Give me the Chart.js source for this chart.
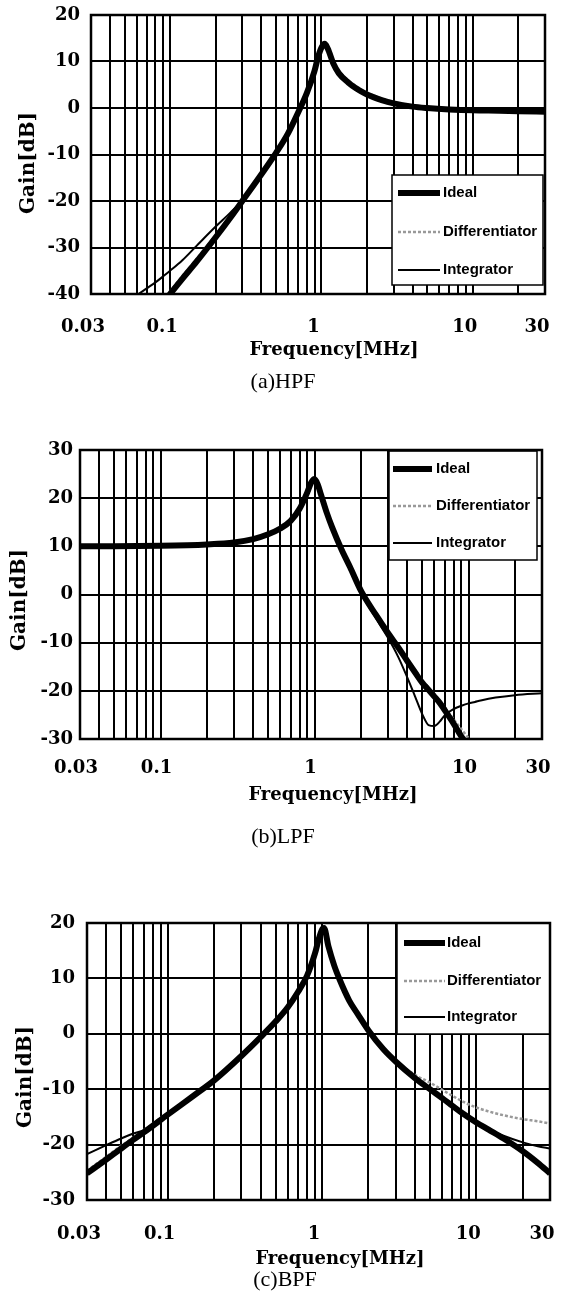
<!doctype html>
<html lang="en">
<head>
<meta charset="utf-8">
<title>Gain vs frequency: HPF, LPF, BPF</title>
<style>
  html, body { margin: 0; padding: 0; background: #fff; }
  .page { position: relative; width: 565px; height: 1302px; }
  .page canvas { position: absolute; left: 0; }
</style>
</head>
<body>
<div class="page">
  <canvas id="hpf" width="565" height="400" style="top:0px"></canvas>
  <canvas id="lpf" width="565" height="460" style="top:400px"></canvas>
  <canvas id="bpf" width="565" height="442" style="top:860px"></canvas>
</div>
<script src="https://cdn.jsdelivr.net/npm/chart.js/dist/chart.umd.min.js"></script>
<script>
// frequency grid lines [MHz] and the ones that get a label
const freqGrid = [0.03, 0.04, 0.05, 0.06, 0.07, 0.08, 0.09, 0.1, 0.2, 0.3, 0.4, 0.5, 0.6, 0.7, 0.8, 0.9,
                  1, 2, 3, 4, 5, 6, 7, 8, 9, 10, 20, 30];
const freqLabels = [0.03, 0.1, 1, 10, 30];
const seriesNames = ['Ideal', 'Differentiator', 'Integrator'];

// (a) HPF, gain in dB
const freqA  = [0.06, 0.07, 0.08, 0.09, 0.1, 0.12, 0.15, 0.2, 0.25, 0.3, 0.4, 0.5, 0.6, 0.7, 0.8, 0.9, 0.95, 1.0, 1.05, 1.1,
                1.2, 1.3, 1.5, 1.7, 2, 2.5, 3, 4, 5, 7, 10, 15, 20, 30];
const idealA = [null, null, null, -41.8, -40, -36.8, -33, -27.8, -23.6, -20, -14.3, -9.7, -5.5, -1, 3.2, 8, 11, 13, 13.8, 12.8,
                9.5, 7.5, 5.5, 4.2, 2.9, 1.7, 1, 0.3, 0, -0.3, -0.5, -0.6, -0.7, -0.8];
const diffA  = [null, null, null, -41.2, -39.4, -36.2, -32.4, -27.3, -23.2, -19.7, -14.1, -9.7, -5.5, -1, 3, 7.6, 10.5, 12.5, 13.2, 12.4,
                9.9, 8, 6, 4.7, 3.3, 2, 1.3, 0.5, 0.1, -0.2, -0.4, -0.6, -0.7, -0.8];
const integA = [-40.3, -38.8, -37.5, -36.2, -35, -32.8, -29.6, -25.5, -22.5, -19.8, -14.3, -9.7, -5.5, -1, 3.2, 8, 11, 13, 13.8, 12.8,
                9.5, 7.5, 5.5, 4.2, 2.9, 1.7, 1, 0.3, 0, -0.3, -0.5, -0.6, -0.7, -0.8];

// (b) LPF
const freqB  = [0.03, 0.05, 0.1, 0.2, 0.3, 0.4, 0.5, 0.6, 0.7, 0.8, 0.9, 0.95, 1.0, 1.05, 1.1, 1.2, 1.3, 1.5, 1.7, 2,
                2.5, 3, 3.5, 4, 4.5, 5, 5.5, 6, 6.5, 7, 8, 9, 10, 11, 12, 15, 20, 30];
const idealB = [10, 10, 10.1, 10.4, 10.8, 11.5, 12.5, 13.7, 15.3, 17.8, 21.3, 23.2, 24, 22.8, 20.8, 17, 14, 9.3, 5.7, 0.8,
                -4.2, -8, -11, -13.8, -16.2, -18.3, -19.8, -21.2, -22.5, -24, -26.8, -29.5, -31.5, null, null, null, null, null];
const diffB  = [10, 10, 10.1, 10.4, 10.8, 11.5, 12.5, 13.7, 15.3, 17.8, 21.3, 23.2, 24, 23, 21.2, 17.6, 14.6, 9.9, 6.2, 1.3,
                -3.8, -7.6, -10.6, -13.3, -15.7, -17.8, -19.3, -20.7, -22, -23.4, -25.9, -28, -29.8, -31.4, null, null, null, null];
const integB = [10, 10, 10.1, 10.4, 10.8, 11.5, 12.5, 13.7, 15.3, 17.8, 21.3, 23.2, 24, 22.8, 20.8, 17, 14, 9.3, 5.5, 0.4,
                -4.9, -9, -13, -17.2, -21.2, -24.8, -27.1, -27.3, -26.4, -25.1, -23.8, -23.1, -22.6, -22.3, -22, -21.4, -20.9, -20.5];

// (c) BPF
const freqC  = [0.03, 0.04, 0.05, 0.06, 0.07, 0.1, 0.15, 0.2, 0.3, 0.4, 0.5, 0.6, 0.7, 0.8, 0.9, 0.95, 1.0, 1.03, 1.1, 1.2,
                1.3, 1.5, 1.7, 2, 2.5, 3, 4, 5, 6, 7, 8, 10, 12, 15, 20, 25, 30];
const idealC = [-25.2, -22.7, -20.7, -19.1, -17.8, -14.6, -11, -8.4, -4, -0.6, 2.2, 4.8, 7.6, 10.5, 14.5, 17, 18.8, 19.1, 15.8, 12.3,
                9.8, 6, 3.6, 0.6, -2.8, -5, -8, -10, -11.6, -13, -14.2, -16, -17.3, -18.9, -21.2, -23.3, -25.2];
const diffC  = [-24.7, -22.2, -20.2, -18.7, -17.4, -14.3, -10.8, -8.2, -3.8, -0.5, 2.2, 4.8, 7.6, 10.5, 14.5, 17, 18.6, 18.6, 16.2, 12.7,
                10.1, 6.2, 3.8, 0.8, -2.6, -4.8, -7.4, -8.8, -10.1, -11.2, -12.1, -13.3, -14, -14.7, -15.4, -15.8, -16.2];
const integC = [-21.7, -20.1, -18.9, -18.0, -17.4, -14.5, -11, -8.4, -4, -0.6, 2.2, 4.8, 7.6, 10.5, 14.5, 17, 18.8, 19.1, 15.8, 12.3,
                9.8, 6, 3.6, 0.6, -2.8, -5, -8, -10, -11.6, -13, -14.2, -16.1, -17.2, -18.4, -19.6, -20.3, -20.7];

const tickFont = { family: '"DejaVu Serif"', size: 18, weight: 'bold' };

function toPoints(freq, vals) {
  return freq.map((f, i) => ({ x: f, y: vals[i] }));
}

function drawText(ctx, text, x, y, font, rot) {
  ctx.save();
  ctx.translate(x, y);
  if (rot) ctx.rotate(rot);
  ctx.font = font;
  ctx.fillStyle = '#000';
  ctx.textAlign = 'center';
  ctx.textBaseline = 'middle';
  ctx.fillText(text, 0, 0);
  ctx.restore();
}

// boxed legend, plot frame and the free-standing titles
const paperPlugin = {
  id: 'paper',
  afterDatasetsDraw(chart, args, o) {
    const ctx = chart.ctx;
    const lg = o.legend;
    ctx.save();
    ctx.fillStyle = '#fff';
    ctx.fillRect(lg.box[0], lg.box[1], lg.box[2], lg.box[3]);
    ctx.strokeStyle = '#000';
    ctx.lineWidth = 1.5;
    ctx.strokeRect(lg.box[0], lg.box[1], lg.box[2], lg.box[3]);
    chart.data.datasets.forEach((ds, i) => {
      const y = lg.rows[i];
      ctx.beginPath();
      ctx.setLineDash(ds.borderDash || []);
      ctx.lineWidth = ds.borderWidth;
      ctx.strokeStyle = ds.borderColor;
      ctx.moveTo(lg.sample[0], y);
      ctx.lineTo(lg.sample[1], y);
      ctx.stroke();
      ctx.setLineDash([]);
      ctx.fillStyle = '#000';
      ctx.font = 'bold 15px "Liberation Sans"';
      ctx.textAlign = 'left';
      ctx.textBaseline = 'middle';
      ctx.fillText(ds.label, lg.textX, y);
    });
    // frame
    const a = chart.chartArea;
    ctx.lineWidth = 2.5;
    ctx.strokeStyle = '#000';
    ctx.strokeRect(a.left, a.top, a.right - a.left, a.bottom - a.top);
    ctx.restore();
  },
  afterDraw(chart, args, o) {
    const ctx = chart.ctx;
    drawText(ctx, 'Gain[dB]', o.yTitle[0], o.yTitle[1], 'bold 20px "DejaVu Serif"', -Math.PI / 2);
    drawText(ctx, 'Frequency[MHz]', o.xTitle[0], o.xTitle[1], 'bold 18px "DejaVu Serif"');
    drawText(ctx, o.caption, o.capPos[0], o.capPos[1], '22px "Liberation Serif"');
  }
};

function makeChart(id, c) {
  // order: lower number is drawn on top
  const datasets = [
    { label: seriesNames[0], data: toPoints(c.freq, c.ideal), borderColor: '#000', borderWidth: 6, order: 1 },
    { label: seriesNames[1], data: toPoints(c.freq, c.diff), borderColor: '#999', borderWidth: 2.5, borderDash: [3, 2], order: 2 },
    { label: seriesNames[2], data: toPoints(c.freq, c.integ), borderColor: '#000', borderWidth: 2, order: 0 }
  ].map(ds => Object.assign(ds, { showLine: true, pointRadius: 0, cubicInterpolationMode: 'monotone', fill: false }));

  return new Chart(document.getElementById(id), {
    type: 'scatter',
    data: { datasets },
    options: {
      responsive: false,
      animation: false,
      events: [],
      layout: { padding: c.pad },
      plugins: {
        legend: { display: false },
        tooltip: { enabled: false },
        paper: c.paper
      },
      scales: {
        x: {
          type: 'logarithmic',
          min: 0.03,
          max: 30,
          afterBuildTicks: s => { s.ticks = freqGrid.map(v => ({ value: v })); },
          afterFit: s => { s.height = c.xHeight; s.paddingLeft = 0; s.paddingRight = 0; },
          grid: { color: '#000', lineWidth: 2, drawTicks: false },
          border: { display: false },
          ticks: {
            autoSkip: false, maxRotation: 0, padding: c.xPad, labelOffset: c.xShift,
            color: '#000', font: tickFont,
            callback: v => freqLabels.includes(v) ? String(v) : ''
          }
        },
        y: {
          min: c.yMin,
          max: c.yMax,
          afterFit: s => { s.width = c.yWidth; s.paddingTop = 0; s.paddingBottom = 0; },
          grid: { color: '#000', lineWidth: 2, drawTicks: false },
          border: { display: false },
          ticks: { stepSize: 10, padding: c.yPad, color: '#000', font: tickFont }
        }
      }
    },
    plugins: [paperPlugin]
  });
}

makeChart('hpf', {
  freq: freqA, ideal: idealA, diff: diffA, integ: integA,
  yMin: -40, yMax: 20,
  pad: { top: 15, right: 20, bottom: 0, left: 0 },
  yWidth: 91, xHeight: 106, xPad: 23, xShift: -8, yPad: 11,
  paper: {
    yTitle: [29, 163], xTitle: [334, 350], caption: '(a)HPF', capPos: [283, 382],
    legend: { box: [392, 175, 151, 110], rows: [193, 232, 270], sample: [398, 440], textX: 443 }
  }
});

makeChart('lpf', {
  freq: freqB, ideal: idealB, diff: diffB, integ: integB,
  yMin: -30, yMax: 30,
  pad: { top: 50, right: 23, bottom: 0, left: 0 },
  yWidth: 80, xHeight: 121, xPad: 19, xShift: -4, yPad: 7,
  paper: {
    yTitle: [20, 200], xTitle: [333, 395], caption: '(b)LPF', capPos: [283, 437],
    legend: { box: [389, 51, 148, 109], rows: [69, 106, 143], sample: [393, 432], textX: 436 }
  }
});

makeChart('bpf', {
  freq: freqC, ideal: idealC, diff: diffC, integ: integC,
  yMin: -30, yMax: 20,
  pad: { top: 63, right: 15, bottom: 0, left: 0 },
  yWidth: 87, xHeight: 102, xPad: 24, xShift: -8, yPad: 12,
  paper: {
    yTitle: [26, 217], xTitle: [340, 399], caption: '(c)BPF', capPos: [285, 420],
    legend: { box: [397, 63, 153, 111], rows: [83, 121, 157], sample: [404, 445], textX: 447 }
  }
});
</script>
</body>
</html>
